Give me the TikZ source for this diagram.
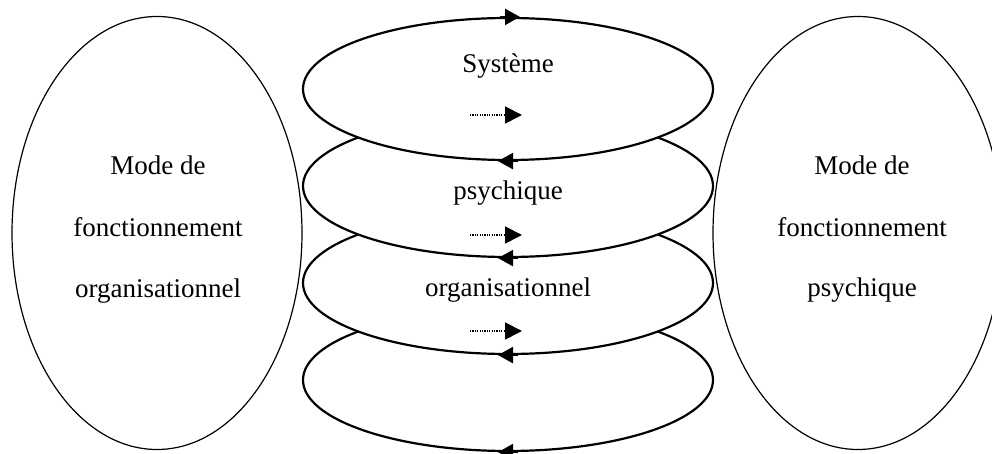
\documentclass[tikz,border=0pt]{standalone}
\usepackage{fontspec}
\setmainfont{Liberation Serif}
\usetikzlibrary{shapes.geometric,arrows.meta}
\begin{document}
\begin{tikzpicture}[x=0.5pt,y=-0.5pt,
  loopell/.style={draw,ellipse,fill=white,line width=1.1pt,minimum width=205pt,minimum height=71pt,inner sep=0pt},
  sideell/.style={draw,ellipse,line width=0.6pt,minimum width=145pt,minimum height=216.5pt,inner sep=0pt},
  lbl/.style={anchor=base,font=\fontsize{13.5pt}{16pt}\selectfont,inner sep=0pt},
  tipline/.style={line width=1.1pt,-{Triangle[length=7.5pt,width=8pt]}},
  dotarrow/.style={line width=0.9pt,dash pattern=on 0.6pt off 0.6pt,-{Triangle[length=8.5pt,width=8.5pt]}}
]
\useasboundingbox (0,0) rectangle (992,454);
\fill[white] (0,0) rectangle (992,454);
% central stacked loops (drawn bottom first)
\node[loopell] (e4) at (508,380) {};
\node[loopell] (e3) at (508,283) {};
\node[loopell] (e2) at (508,186) {};
\node[loopell] (e1) at (508,89) {};
% side ellipses
\node[sideell] (L) at (157,233) {};
\node[sideell] (R) at (858,233) {};
% arrow heads on the loops
\draw[tipline] ([xshift=-4pt]e1.north) -- ([xshift=6pt]e1.north);
\draw[tipline] ([xshift=5pt]e1.south) -- ([xshift=-5pt]e1.south);
\draw[tipline] ([xshift=5pt]e2.south) -- ([xshift=-5pt]e2.south);
\draw[tipline] ([xshift=5pt]e3.south) -- ([xshift=-5pt]e3.south);
\draw[tipline] ([xshift=5pt]e4.south) -- ([xshift=-5pt]e4.south);
% dotted arrows
\coordinate (d1s) at (470,115); \coordinate (d1e) at (522,115);
\coordinate (d2s) at (470,235); \coordinate (d2e) at (522,235);
\coordinate (d3s) at (470,331); \coordinate (d3e) at (522,331);
\draw[dotarrow] (d1s) -- (d1e);
\draw[dotarrow] (d2s) -- (d2e);
\draw[dotarrow] (d3s) -- (d3e);
% central labels
\node[lbl] (t1) at (508,73) {Système};
\node[lbl] (t2) at (508,200) {psychique};
\node[lbl] (t3) at (508,297) {organisationnel};
% left labels
\node[lbl] (l1) at (158,175) {Mode de};
\node[lbl] (l2) at (158,237) {fonctionnement};
\node[lbl] (l3) at (158,298) {organisationnel};
% right labels
\node[lbl] (r1) at (862,175) {Mode de};
\node[lbl] (r2) at (862,237) {fonctionnement};
\node[lbl] (r3) at (862,297) {psychique};
\end{tikzpicture}
\end{document}
